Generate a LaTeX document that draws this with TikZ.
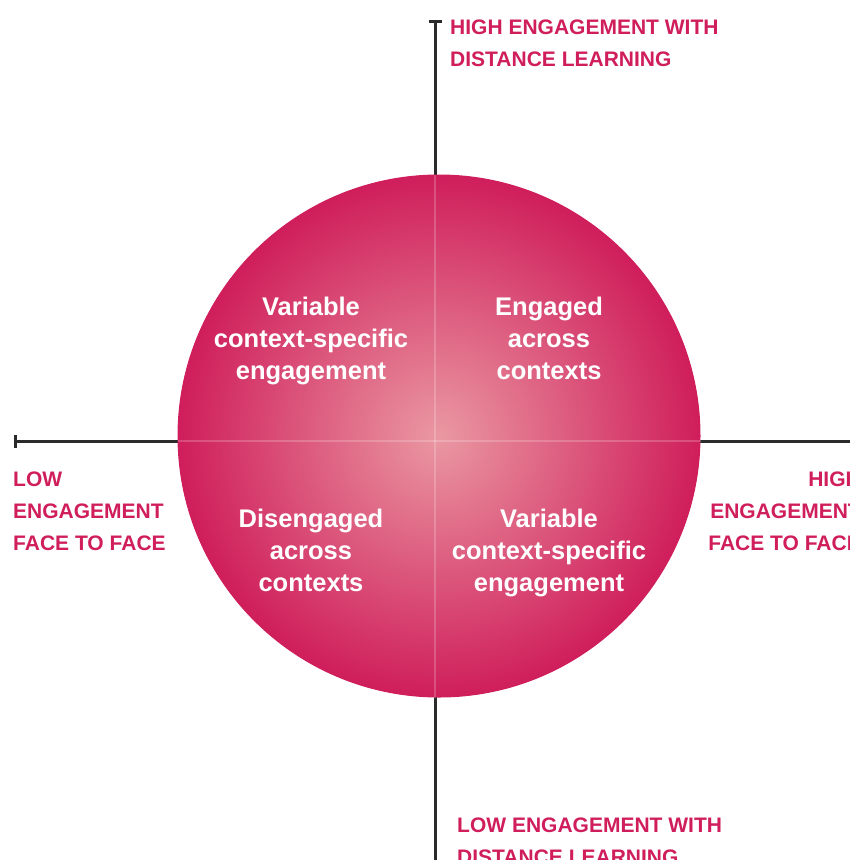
\documentclass[tikz,border=0pt]{standalone}
\usepackage{fontspec}
\setmainfont{Liberation Sans}
\usetikzlibrary{arrows.meta}

\definecolor{axisink}{HTML}{2B2B2B}
\definecolor{rimred}{RGB}{207,30,91}
\definecolor{coreink}{RGB}{234,152,162}
\newcommand\axisfont{\bfseries\fontsize{21}{32}\selectfont}
\newcommand\quadfont{\bfseries\fontsize{25.5}{32}\selectfont}

\begin{document}
\begin{tikzpicture}[x=1pt, y=-1pt,
    axis/.style={draw=axisink, line width=3pt},
    axislabel/.style={text=rimred, font=\axisfont, inner sep=0pt},
    quadlabel/.style={text=white, font=\quadfont, align=center, inner sep=0pt},
    split/.style={draw=white, draw opacity=0.2, line width=2pt}]
  \useasboundingbox (0,0) rectangle (850,860);

  % axes
  \coordinate (top) at (435,20);
  \coordinate (bottom) at (435,875);
  \coordinate (left) at (14,441);
  \coordinate (right) at (865,441);
  \draw[axis, {Bar[width=13pt]}-] (top) -- (bottom);
  \draw[axis, {Bar[width=13pt]}-] (left) -- (right);

  % the ball
  \node (ball) [circle, minimum size=522pt, inner sep=0pt, draw=rimred, line width=1pt,
    inner color=coreink, outer color=rimred] at (439,436) {};
  \draw[split] (top |- ball.north) -- (top |- ball.south);
  \draw[split] (ball.west |- left) -- (ball.east |- left);

  % quadrants
  \node (upleft) [quadlabel] at (311,341) {Variable\\context-specific\\engagement};
  \node (upright) [quadlabel] at (549,338) {Engaged\\across\\contexts};
  \node (lowleft) [quadlabel] at (311,550) {Disengaged\\across\\contexts};
  \node (lowright) [quadlabel] at (549,553) {Variable\\context-specific\\engagement};

  % axis labels
  \node (highdl) [axislabel, anchor=west, align=left] at (450,43) {HIGH ENGAGEMENT WITH\\DISTANCE LEARNING};
  \node (lowdl) [axislabel, anchor=west, align=left] at (457,841) {LOW ENGAGEMENT WITH\\DISTANCE LEARNING};
  \node (lowftf) [axislabel, anchor=west, align=left] at (13,511) {LOW\\ENGAGEMENT\\FACE TO FACE};
  \node (highftf) [axislabel, anchor=east, align=right] at (861,511) {HIGH\\ENGAGEMENT\\FACE TO FACE};
\end{tikzpicture}
\end{document}
